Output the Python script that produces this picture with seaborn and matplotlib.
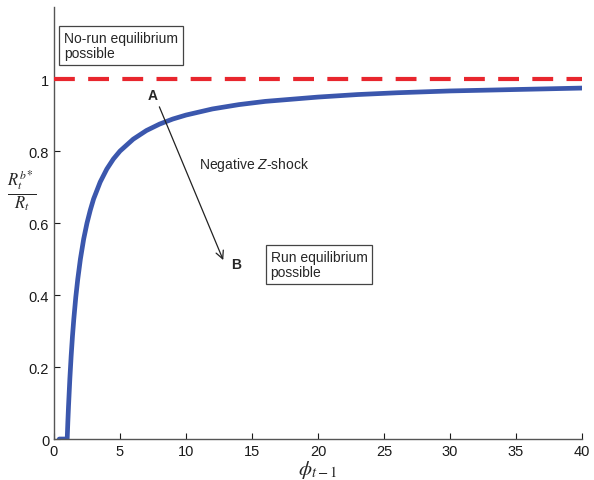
import matplotlib
matplotlib.use("Agg")
import matplotlib.pyplot as plt
import seaborn as sns
import pandas as pd

# Cut-off ratio R^b*/R as a function of phi_{t-1}
phi = [0.4, 1.0, 1.0, 1.05, 1.1, 1.2, 1.3, 1.4, 1.5, 1.65, 1.8, 2.0, 2.25, 2.5, 2.75,
       3.0, 3.5, 4.0, 4.5, 5.0, 6.0, 7.0, 8.0, 9.0, 10.0, 12.0, 14.0, 16.0, 18.0,
       20.0, 23.0, 26.0, 30.0, 35.0, 40.0]
ratio = [0.0, 0.0, 0.0, 0.048, 0.091, 0.167, 0.231, 0.286, 0.333, 0.394, 0.444, 0.5,
         0.556, 0.6, 0.636, 0.667, 0.714, 0.75, 0.778, 0.8, 0.833, 0.857, 0.875,
         0.889, 0.9, 0.917, 0.929, 0.938, 0.944, 0.95, 0.957, 0.962, 0.967, 0.971, 0.975]

x_ticks = [0, 5, 10, 15, 20, 25, 30, 35, 40]
y_ticks = [0, 0.2, 0.4, 0.6, 0.8, 1.0]
y_tick_labels = ["0", "0.2", "0.4", "0.6", "0.8", "1"]

df = pd.DataFrame({"phi": phi, "ratio": ratio})

sns.set_style("ticks")
plt.rcParams["font.family"] = ["Liberation Sans", "DejaVu Sans"]
plt.rcParams["mathtext.fontset"] = "custom"
plt.rcParams["mathtext.rm"] = "Liberation Sans"
plt.rcParams["mathtext.it"] = "Liberation Sans:italic"
plt.rcParams["mathtext.bf"] = "Liberation Sans:bold"

fig = plt.figure(figsize=(5.94, 4.81), dpi=100)
ax = fig.add_axes([0.0909, 0.0852, 0.889, 0.898])

sns.lineplot(data=df, x="phi", y="ratio", ax=ax, color="#3b57ad", linewidth=3.4,
             sort=False, estimator=None)
ax.axhline(1.0, color="#e8262e", linewidth=3.0, linestyle=(0, (5, 3.2)), zorder=3)

ax.set_xlim(0, 40)
ax.set_ylim(0, 1.2)
ax.set_xticks(x_ticks)
ax.set_xticklabels([str(t) for t in x_ticks])
ax.set_yticks(y_ticks)
ax.set_yticklabels(y_tick_labels)
ax.tick_params(direction="in", length=4, width=0.8, labelsize=10.5, colors="#1a1a1a")
for side in ("top", "right"):
    ax.spines[side].set_visible(False)
for side in ("left", "bottom"):
    ax.spines[side].set_color("#555555")
    ax.spines[side].set_linewidth(1.0)

ax.set_xlabel(r"$\phi_{t-1}$", fontsize=15, math_fontfamily="stix")
ax.xaxis.set_label_coords(0.5, -0.045)
ax.xaxis.label.set_va("top")
ax.set_ylabel(r"$\frac{R_t^{b*}}{R_t}$", fontsize=17, rotation=0,
              math_fontfamily="stix")
ax.yaxis.label.set_va("center")
ax.yaxis.set_label_coords(-0.06, 0.578)

ax.text(0.75, 1.094, "No-run equilibrium\npossible", fontsize=10, va="center", ha="left",
        linespacing=1.1,
        bbox=dict(boxstyle="square,pad=0.35", facecolor="white", edgecolor="#444444",
                  linewidth=0.9))
ax.text(16.4, 0.484, "Run equilibrium\npossible", fontsize=10, va="center", ha="left",
        linespacing=1.1,
        bbox=dict(boxstyle="square,pad=0.35", facecolor="white", edgecolor="#444444",
                  linewidth=0.9))

ax.text(7.5, 0.955, "A", fontsize=10, fontweight="bold", ha="center", va="center")
ax.text(13.8, 0.487, "B", fontsize=10, fontweight="bold", ha="center", va="center")
ax.annotate("", xy=(12.9, 0.49), xytext=(7.9, 0.93),
            arrowprops=dict(arrowstyle="->", color="#222222", linewidth=0.9,
                            mutation_scale=14))
ax.text(11.0, 0.765, r"Negative $Z$-shock", fontsize=10, ha="left", va="center")

fig.savefig("out.png", dpi=100)
